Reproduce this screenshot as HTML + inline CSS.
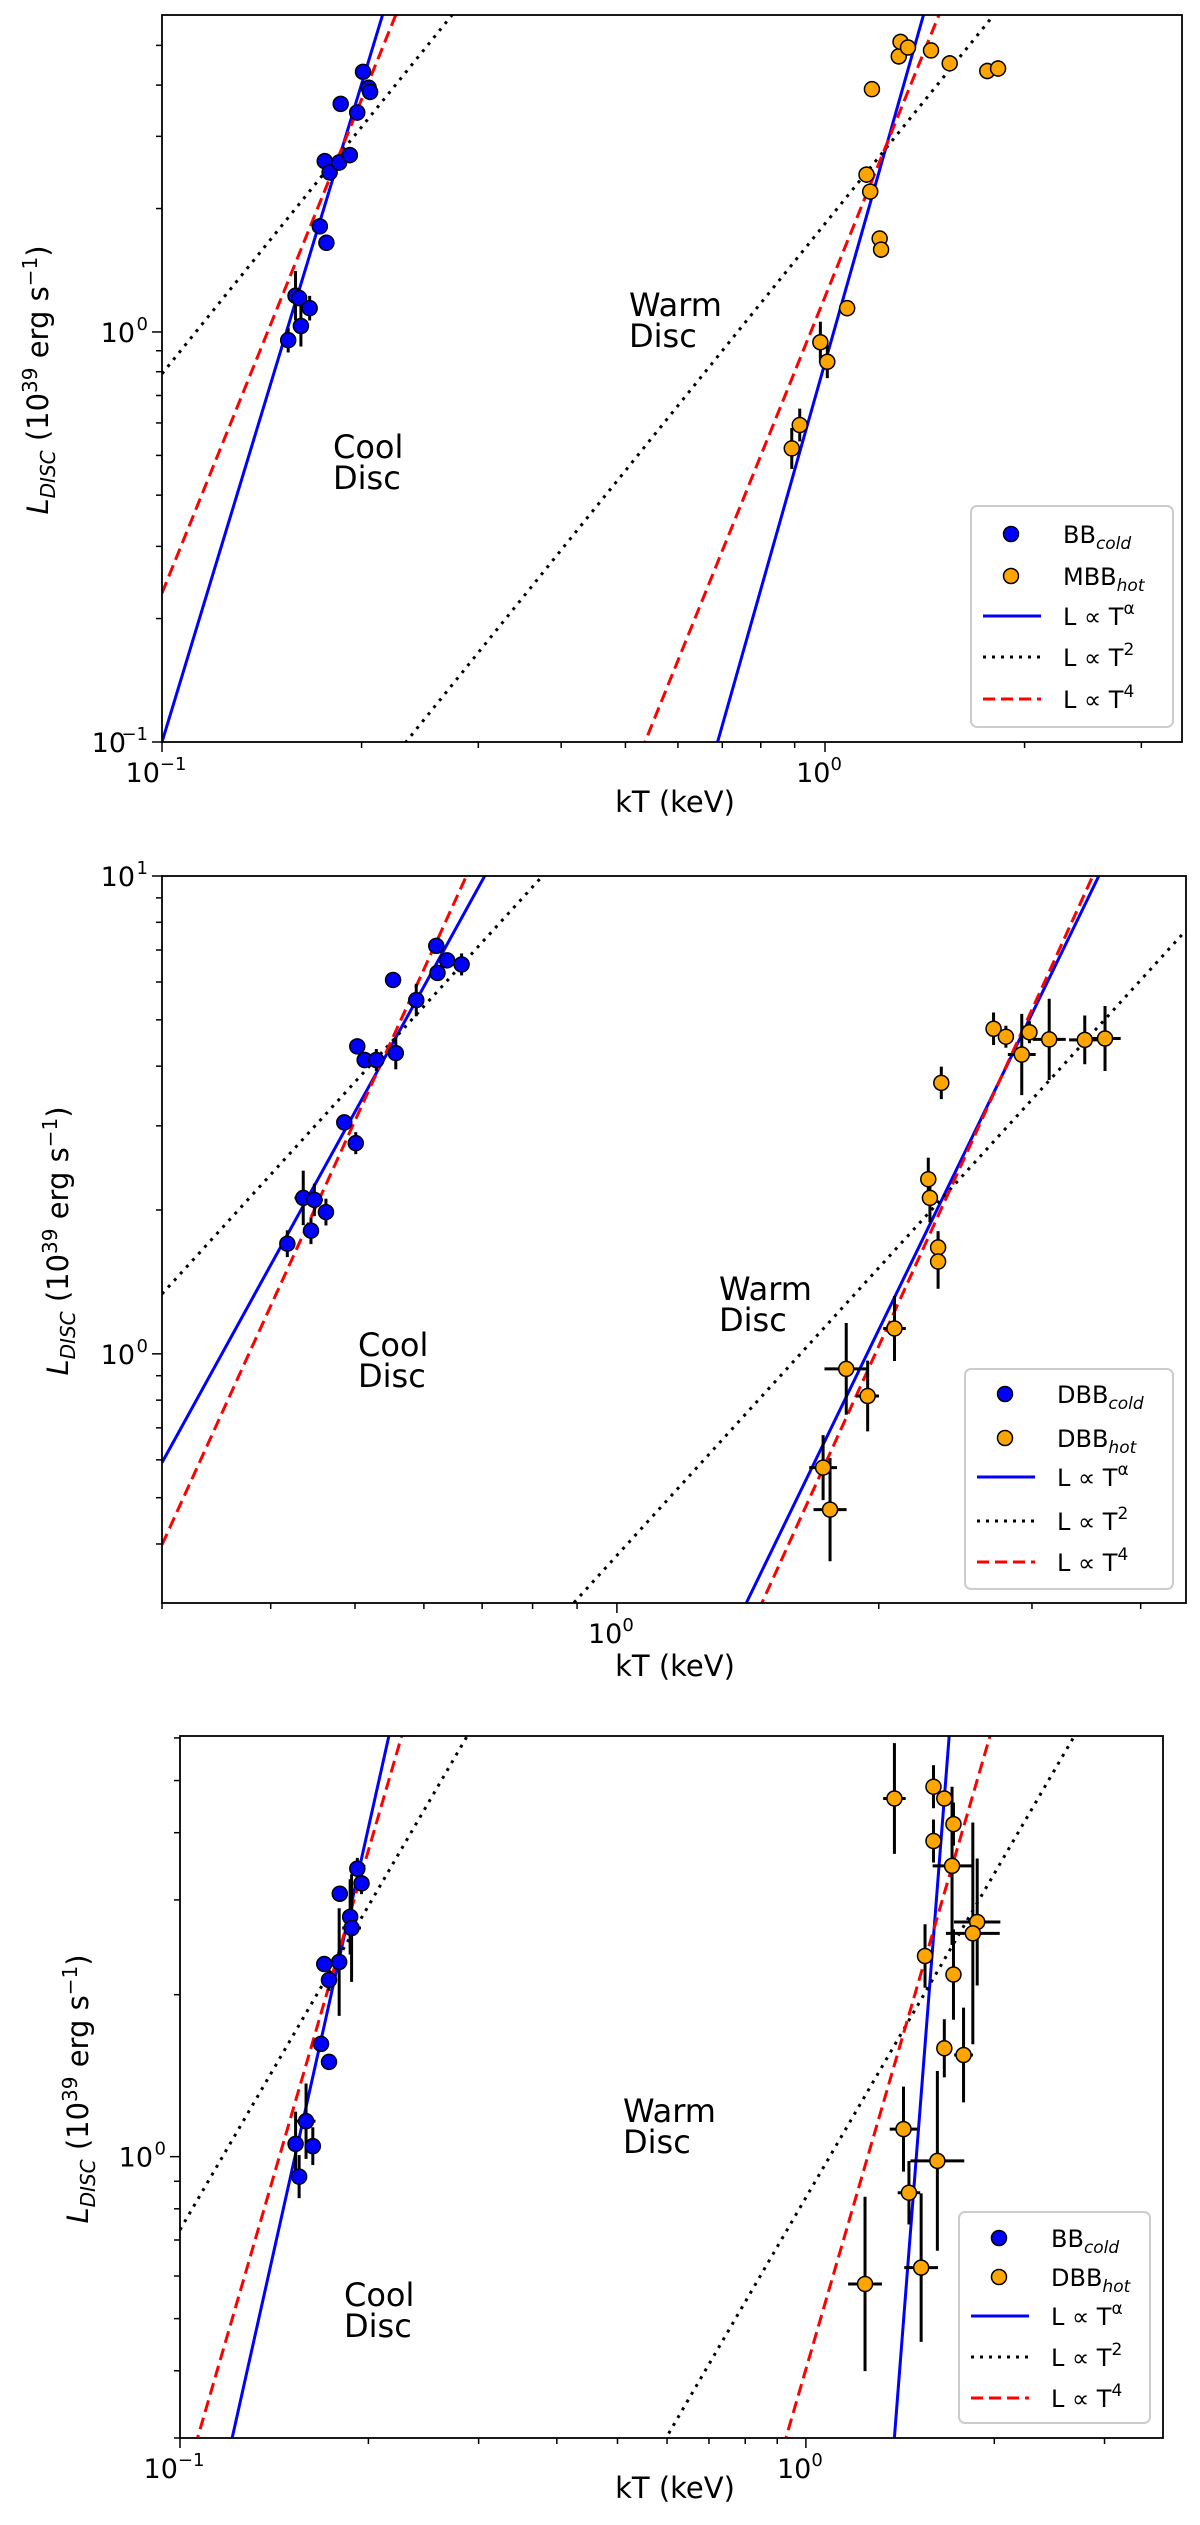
<!DOCTYPE html>
<html><head><meta charset="utf-8"><style>
html,body{margin:0;padding:0;background:#fff;width:1200px;height:2525px;overflow:hidden;}
svg{display:block;font-family:"DejaVu Sans","Liberation Sans",sans-serif;}
</style></head><body>
<svg id="fig" width="1200" height="2525" viewBox="0 0 1200 2525" xmlns="http://www.w3.org/2000/svg"></svg>
<script>
// ---------- Panel 1 data ----------
const p1ColdT=[0.155,0.159,0.161,0.162,0.167,0.173,0.177,0.176,0.179,0.185,0.192,0.186,0.197,0.201,0.205,0.206];
const p1ColdL=[0.955,1.226,1.21,1.034,1.143,1.81,1.65,2.61,2.45,2.59,2.70,3.60,3.43,4.31,3.94,3.85];
const p1ColdLerr=[0.03,0.06,0.02,0.05,0.03,0.02,0.02,0.02,0.02,0.02,0.02,0.01,0.02,0.01,0.02,0.02];
const p1ColdTerr=[0,0,0,0,0,0,0,0,0,0,0,0,0,0,0,0];
const p1HotT=[0.891,0.916,0.984,1.008,1.080,1.155,1.170,1.177,1.209,1.215,1.292,1.300,1.334,1.445,1.542,1.757,1.824];
const p1HotL=[0.520,0.593,0.944,0.846,1.143,2.42,2.20,3.91,1.69,1.588,4.70,5.10,4.94,4.86,4.52,4.33,4.39];
const p1HotLerr=[0.05,0.04,0.05,0.04,0.02,0.02,0.02,0.01,0.01,0.02,0.02,0.01,0.01,0.01,0.02,0.02,0.02];
const p1HotTerr=[0,0,0,0,0,0,0,0,0,0,0,0,0,0,0,0,0];
const p1Slopes=[5.33,2,4,5.71,2,4];
const p1LogNorm=[4.33,1.898,3.363,-0.075,0.264,0.086];
// ---------- Panel 2 data ----------
const p2ColdT=[0.418,0.436,0.445,0.449,0.463,0.486,0.501,0.503,0.513,0.529,0.553,0.557,0.588,0.620,0.622,0.638,0.663];
const p2ColdL=[1.70,2.12,1.81,2.10,1.98,3.05,2.76,4.40,4.12,4.12,6.06,4.26,5.50,7.14,6.27,6.66,6.53];
const p2ColdLerr=[0.028,0.057,0.028,0.034,0.028,0.011,0.023,0.011,0.017,0.023,0.011,0.034,0.034,0.011,0.011,0.011,0.023];
const p2ColdTerr=[0,0.01,0,0.01,0,0,0,0,0,0,0,0,0,0,0,0,0];
const p2HotT=[1.726,1.758,1.835,1.942,2.085,2.28,2.29,2.34,2.34,2.36,2.71,2.80,2.92,2.98,3.14,3.45,3.64];
const p2HotL=[0.578,0.472,0.930,0.816,1.13,2.32,2.12,1.67,1.56,3.69,4.79,4.61,4.23,4.71,4.55,4.54,4.57];
const p2HotLerr=[0.068,0.108,0.096,0.074,0.068,0.045,0.051,0.034,0.057,0.034,0.034,0.023,0.085,0.023,0.085,0.051,0.068];
const p2HotTerr=[0.016,0.019,0.025,0.013,0.013,0.004,0.004,0,0,0,0,0,0.016,0,0.019,0.018,0.018];
const p2Slopes=[3.31,2,4,3.755,2,4];
const p2LogNorm=[1.503,1.171,1.692,-1.080,-0.422,-1.188];
// ---------- Panel 3 data ----------
const p3ColdT=[0.153,0.155,0.159,0.163,0.168,0.173,0.170,0.173,0.1796,0.180,0.187,0.188,0.192,0.195];
const p3ColdL=[1.056,0.918,1.164,1.046,1.62,1.50,2.28,2.13,2.30,3.08,2.79,2.66,3.43,3.22];
const p3ColdLerr=[0.06,0.04,0.07,0.035,0.01,0.01,0.01,0.02,0.1,0.01,0.07,0.1,0.02,0.02];
const p3ColdTerr=[0,0,0.015,0,0,0,0,0,0,0,0,0.015,0,0];
const p3HotT=[1.385,1.599,1.664,1.721,1.599,1.712,1.878,1.848,1.550,1.721,1.664,1.786,1.432,1.622,1.461,1.528,1.243];
const p3HotL=[4.63,4.87,4.63,4.15,3.86,3.47,2.73,2.60,2.36,2.18,1.59,1.545,1.125,0.982,0.857,0.622,0.580];
const p3HotLerr=[0.103,0.04,0.01,0.04,0.04,0.147,0.118,0.206,0.059,0.084,0.054,0.088,0.079,0.167,0.059,0.138,0.162];
const p3HotTerr=[0.018,0,0,0,0,0.031,0.037,0.043,0,0,0,0.015,0.022,0.043,0.018,0.027,0.027];
const p3Slopes=[5.21,2,4,14.9,2,4];
const p3LogNorm=[4.253,1.864,3.365,-2.629,-0.076,-0.395];

const NS="http://www.w3.org/2000/svg";
const svg=document.getElementById('fig');
function mk(tag,attrs,parent){const e=document.createElementNS(NS,tag);for(const k in attrs)e.setAttribute(k,attrs[k]);(parent||svg).appendChild(e);return e;}
const L10=Math.log10;

function drawPanel(id,box,data,legendCfg,texts,labels){
  const g=mk('g',{});
  
  
  const {left,right,top,bottom,xmin,xmax,ymin,ymax}=box;
  const sx=v=>left+(L10(v)-L10(xmin))/(L10(xmax)-L10(xmin))*(right-left);
  const sy=v=>bottom-(L10(v)-L10(ymin))/(L10(ymax)-L10(ymin))*(bottom-top);
  const cp=mk('clipPath',{id:id+'-clip'},g);
  mk('rect',{x:left,y:top,width:right-left,height:bottom-top},cp);
  const plot=mk('g',{'clip-path':'url(#'+id+'-clip)'},g);
  const styles=[{stroke:'#0000ff','stroke-width':3},{stroke:'#000','stroke-width':3,'stroke-dasharray':'3,6'},{stroke:'#ff0000','stroke-width':3,'stroke-dasharray':'12,6'}];
  const names=['alpha-fit','t2-fit','t4-fit'];
  for(let i=0;i<6;i++){
    const s=data.slopes[i],a=data.norm[i];
    const x1=xmin,x2=xmax;
    const y1=Math.pow(10,a+s*L10(x1)),y2=Math.pow(10,a+s*L10(x2));
    const ln=mk('line',Object.assign({x1:sx(x1),y1:sy(y1),x2:sx(x2),y2:sy(y2)},styles[i%3]),plot);
    
    
  }
  function series(T,Lv,Le,Te,fill,nm){
    for(let i=0;i<T.length;i++){
      const x=sx(T[i]),y=sy(Lv[i]);
      const e1=mk('line',{x1:x,x2:x,y1:sy(Lv[i]*Math.pow(10,Le[i])),y2:sy(Lv[i]/Math.pow(10,Le[i])),stroke:'#000','stroke-width':3},plot);
      
      
      if(Te[i]>0){
        const e2=mk('line',{y1:y,y2:y,x1:sx(T[i]/Math.pow(10,Te[i])),x2:sx(T[i]*Math.pow(10,Te[i])),stroke:'#000','stroke-width':3},plot);
        
        
      }
    }
    for(let i=0;i<T.length;i++){
      const c=mk('circle',{cx:sx(T[i]),cy:sy(Lv[i]),r:7.5,fill:fill,stroke:'#000','stroke-width':1.5},plot);
      
      
    }
  }
  series(data.cT,data.cL,data.cLe,data.cTe,'#0000ff','cold');
  series(data.hT,data.hL,data.hLe,data.hTe,'#ffa500','hot');
  const fr=mk('rect',{x:left,y:top,width:right-left,height:bottom-top,fill:'none',stroke:'#000','stroke-width':1.8},g);
  
  
  for(let d=Math.floor(L10(xmin));d<=Math.ceil(L10(xmax));d++){
    for(let m=1;m<10;m++){
      const v=m*Math.pow(10,d);
      if(v<xmin*0.999||v>xmax*1.001)continue;
      const x=sx(v),len=m===1?10:6;
      mk('line',{x1:x,x2:x,y1:bottom,y2:bottom+len,stroke:'#000','stroke-width':1.5},g);
      if(m===1){
        const t=mk('text',{x:x-6,y:bottom+40,'font-size':27,'text-anchor':'middle'},g);
        
        
        t.innerHTML='10<tspan dy="-12" font-size="18">'+(d<0?'\u2212'+(-d):d)+'</tspan>';
      }
    }
  }
  for(let d=Math.floor(L10(ymin));d<=Math.ceil(L10(ymax));d++){
    for(let m=1;m<10;m++){
      const v=m*Math.pow(10,d);
      if(v<ymin*0.999||v>ymax*1.001)continue;
      const y=sy(v),len=m===1?10:6;
      mk('line',{x1:left-len,x2:left,y1:y,y2:y,stroke:'#000','stroke-width':1.5},g);
      if(m===1){
        const t=mk('text',{x:left-14-(d<0?22:13),y:y+10,'font-size':27,'text-anchor':'end'},g);
        
        
        t.textContent='10';
        const sup=mk('text',{x:left-14,y:y-2,'font-size':18,'text-anchor':'end'},g);
        
        
        sup.textContent=(d<0?'\u2212'+(-d):''+d);
      }
    }
  }
  const xl=mk('text',{x:675,y:labels.xy,'font-size':29,'text-anchor':'middle'},g);
  
  
  xl.textContent='kT (keV)';
  const yl=mk('text',{x:0,y:0,'font-size':29,'text-anchor':'middle',transform:'translate('+labels.yx+','+labels.yy+') rotate(-90)'},g);
  
  
  yl.innerHTML='<tspan font-style="italic">L</tspan><tspan font-style="italic" font-size="20" dy="7">DISC</tspan><tspan dy="-7"> (10</tspan><tspan font-size="20" dy="-11">39</tspan><tspan dy="11"> erg s</tspan><tspan font-size="20" dy="-11">\u22121</tspan><tspan dy="11">)</tspan>';
  texts.forEach(t=>{
    const a=mk('text',{x:t.x,y:t.y,'font-size':32},g);
    
    
    a.textContent=t.l1;
    const b=mk('text',{x:t.x,y:t.y+31,'font-size':32},g);
    
    
    b.textContent='Disc';
  });
  const lg=mk('g',{},g);
  
  
  const {x:lx,y:ly,w:lw,h:lh,rows,cold,hot}=legendCfg;
  mk('rect',{x:lx,y:ly,width:lw,height:lh,rx:6,fill:'#fff',stroke:'#cccccc','stroke-width':2},lg);
  const items=[
    {k:'m',c:'#0000ff',lab:cold[0],sub:cold[1],n:'legend-entry-cold'},
    {k:'m',c:'#ffa500',lab:hot[0],sub:hot[1],n:'legend-entry-hot'},
    {k:'l',s:styles[0],sup:'\u03b1',n:'legend-entry-alpha'},
    {k:'l',s:styles[1],sup:'2',n:'legend-entry-t2'},
    {k:'l',s:styles[2],sup:'4',n:'legend-entry-t4'}];
  items.forEach((it,i)=>{
    const y=rows[i];
    const eg=mk('g',{},lg);
    
    
    if(it.k==='m'){
      mk('circle',{cx:lx+40,cy:y,r:7.5,fill:it.c,stroke:'#000','stroke-width':1.5},eg);
      const t=mk('text',{x:lx+92,y:y+9,'font-size':24},eg);
      t.innerHTML=it.lab+'<tspan font-style="italic" font-size="17" dy="6">'+it.sub+'</tspan>';
    } else {
      mk('line',Object.assign({x1:lx+12,x2:lx+70,y1:y,y2:y},it.s),eg);
      const t=mk('text',{x:lx+92,y:y+9,'font-size':24},eg);
      t.innerHTML='L \u221d T<tspan font-size="17" dy="-11">'+it.sup+'</tspan>';
    }
  });
}

drawPanel('panel-1',{left:162,right:1182,top:15,bottom:742,xmin:0.1,xmax:3.455,ymin:0.1,ymax:5.93},
  {cT:p1ColdT,cL:p1ColdL,cLe:p1ColdLerr,cTe:p1ColdTerr,hT:p1HotT,hL:p1HotL,hLe:p1HotLerr,hTe:p1HotTerr,slopes:p1Slopes,norm:p1LogNorm},
  {x:971,y:506,w:202,h:221,rows:[534,576,616,657,699],cold:['BB','cold'],hot:['MBB','hot']},
  [{x:629,y:316,l1:'Warm',name:'warm-disc-label'},{x:333,y:458,l1:'Cool',name:'cool-disc-label'}],
  {xy:812,yx:48,yy:380});
drawPanel('panel-2',{left:162,right:1186,top:876,bottom:1603,xmin:0.3,xmax:4.51,ymin:0.301,ymax:10},
  {cT:p2ColdT,cL:p2ColdL,cLe:p2ColdLerr,cTe:p2ColdTerr,hT:p2HotT,hL:p2HotL,hLe:p2HotLerr,hTe:p2HotTerr,slopes:p2Slopes,norm:p2LogNorm},
  {x:965,y:1369,w:208,h:220,rows:[1394,1438,1477,1521,1562],cold:['DBB','cold'],hot:['DBB','hot']},
  [{x:719,y:1300,l1:'Warm',name:'warm-disc-label'},{x:358,y:1356,l1:'Cool',name:'cool-disc-label'}],
  {xy:1676,yx:68,yy:1241});
drawPanel('panel-3',{left:180,right:1163,top:1736,bottom:2438,xmin:0.1,xmax:3.72,ymin:0.3,ymax:6.05},
  {cT:p3ColdT,cL:p3ColdL,cLe:p3ColdLerr,cTe:p3ColdTerr,hT:p3HotT,hL:p3HotL,hLe:p3HotLerr,hTe:p3HotTerr,slopes:p3Slopes,norm:p3LogNorm},
  {x:959,y:2212,w:191,h:211,rows:[2238,2277,2316,2357,2398],cold:['BB','cold'],hot:['DBB','hot']},
  [{x:623,y:2122,l1:'Warm',name:'warm-disc-label'},{x:344,y:2306,l1:'Cool',name:'cool-disc-label'}],
  {xy:2498,yx:88,yy:2089});
</script>
</body></html>
